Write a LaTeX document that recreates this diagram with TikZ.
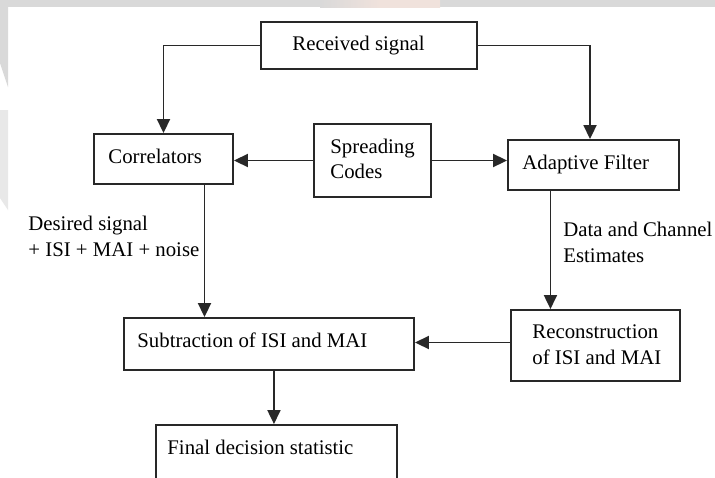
\documentclass[tikz,border=0pt]{standalone}
\usepackage{fontspec}
\setmainfont{Liberation Serif}
\usetikzlibrary{arrows.meta,fit,calc}
\definecolor{linegrey}{RGB}{40,40,40}
\definecolor{bandgrey}{RGB}{217,217,217}
\definecolor{softgrey}{RGB}{232,232,232}
\definecolor{blush}{RGB}{240,226,220}
\begin{document}
\begin{tikzpicture}[x=0.5pt,y=-0.5pt,
  box/.style={draw=linegrey, line width=0.95pt, inner sep=0pt},
  lbl/.style={font=\fontsize{10.4}{12}\selectfont, inner sep=0pt, anchor=base west},
  conn/.style={draw=linegrey, line width=0.95pt, -{Triangle[width=6.5pt,length=7pt]}},
  plain/.style={draw=linegrey, line width=0.95pt}]
\useasboundingbox (0,0) rectangle (715,477);
\begin{scope}
\clip (0,0) rectangle (715,477);
\fill[white] (0,0) rectangle (715,477);
% grey frame along the top and left edges
\fill[bandgrey] (0,0) rectangle (715,7);
\shade[left color=bandgrey, right color=blush, middle color=blush] (320,0) rectangle (440,7);
\fill[bandgrey] (0,7) -- (8,7) -- (8,87) -- (0,63) -- cycle;
\fill[softgrey] (0,110) -- (8,110) -- (8,210) -- (0,198) -- cycle;

% boxes
\node[box, fit={(261,22) (477,69)}] (recv) {};
\node[box, fit={(94,134) (233,184)}] (corr) {};
\node[box, fit={(314,124) (431,197)}] (spread) {};
\node[box, fit={(508,140) (679,190)}] (adapt) {};
\node[box, fit={(124,318) (414,370)}] (sub) {};
\node[box, fit={(511,310) (680,381)}] (recon) {};
\node[box, fit={(156,425) (397,500)}] (final) {};

% box texts
\node[lbl] (recvtxt) at (292,50) {Received signal};
\node[lbl] (corrtxt) at (108,163) {Correlators};
\node[lbl] (spreadtxt) at (330,153) {Spreading};
\node[lbl] (codestxt) at (330,178) {Codes};
\node[lbl] (adapttxt) at (522,169) {Adaptive Filter};
\node[lbl] (subtxt) at (137,347) {Subtraction of ISI and MAI};
\node[lbl] (recontxt) at (532,338) {Reconstruction};
\node[lbl] (recontxtb) at (532,364) {of ISI and MAI};
\node[lbl] (finaltxt) at (167,454) {Final decision statistic};

% connector labels
\node[lbl] (desired) at (28,230) {Desired signal};
\node[lbl] (desiredb) at (28,256) {+ ISI + MAI + noise};
\node[lbl] (estim) at (563,236) {Data and Channel};
\node[lbl] (estimb) at (563,262) {Estimates};

% connectors
\draw[conn] (recv.west) -| (corr.north);
\draw[conn] (recv.east) -| ($(adapt.north)+(-3.5,0)$);
\draw[conn] (spread.west) -- (spread.west -| corr.east);
\draw[conn] (spread.east) -- (spread.east -| adapt.west);
\coordinate (corrout) at ($(corr.south west)!0.791!(corr.south east)$);
\draw[conn] (corrout) -- (corrout |- sub.north);
\coordinate (adaptout) at ($(adapt.south west)!0.251!(adapt.south east)$);
\draw[conn] (adaptout) -- (adaptout |- recon.north);
\draw[conn] ($(recon.west)+(0,-3)$) -- ($(recon.west -| sub.east)+(0,-3)$);
\coordinate (subout) at ($(sub.south west)!0.517!(sub.south east)$);
\draw[conn] (subout) -- (subout |- final.north);
\end{scope}
\end{tikzpicture}
\end{document}
